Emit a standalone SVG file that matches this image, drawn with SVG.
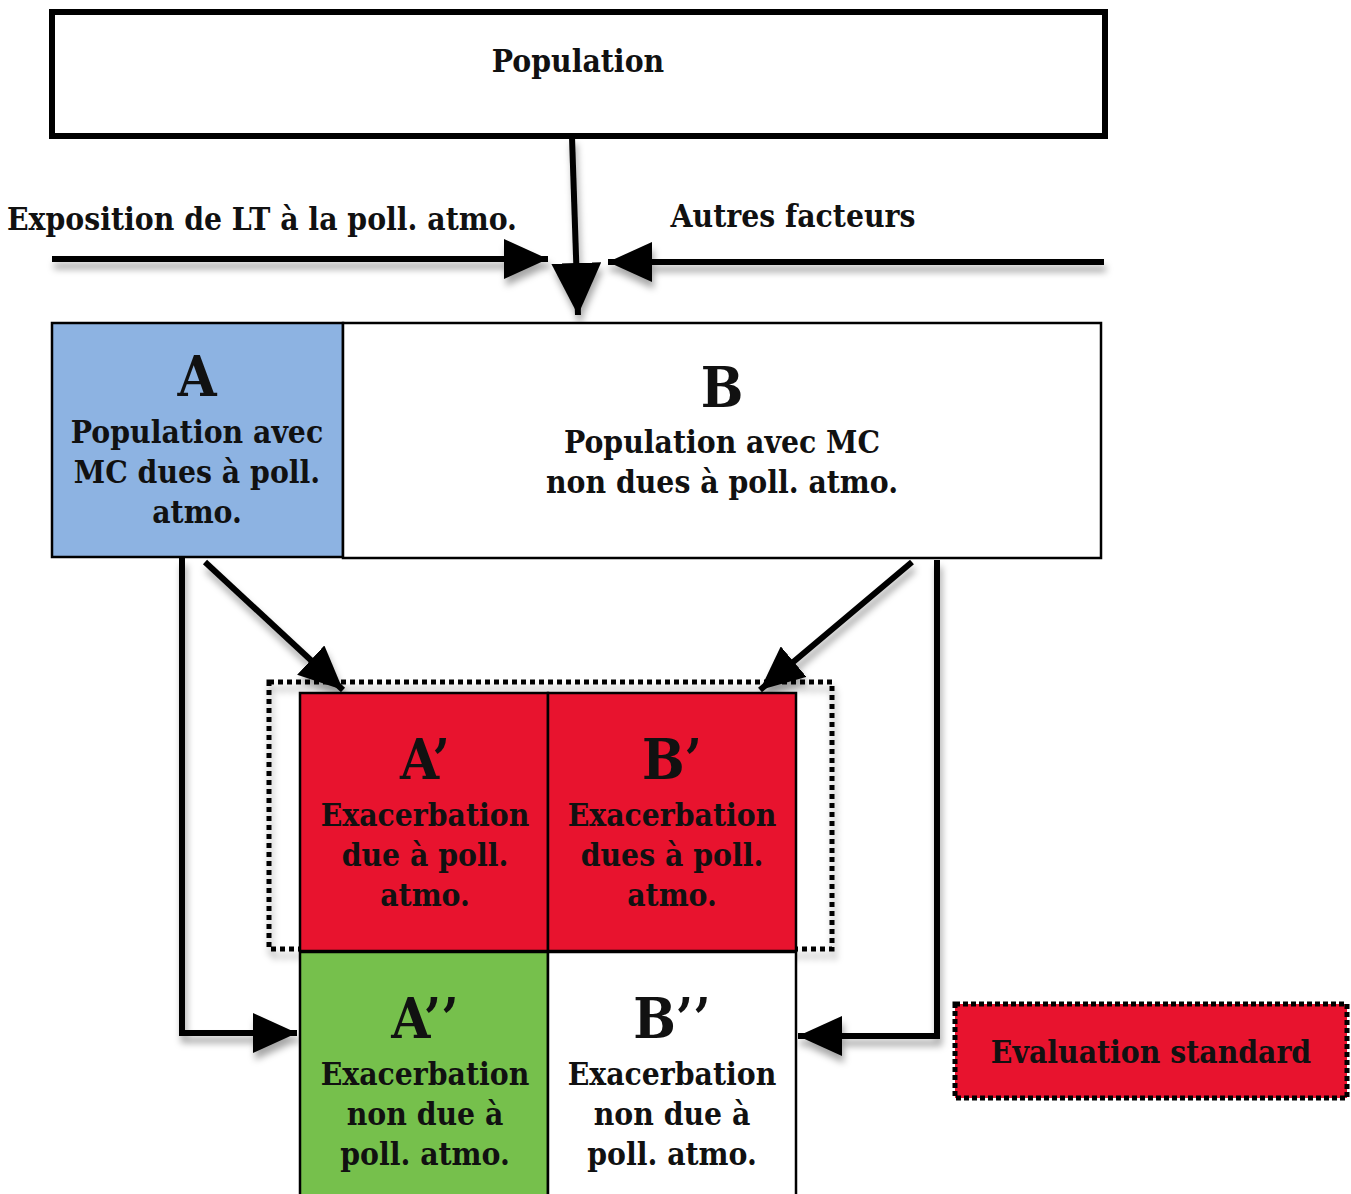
<svg xmlns="http://www.w3.org/2000/svg" width="1351" height="1194" viewBox="0 0 1351 1194">
<defs>
<filter id="sh" x="-20%" y="-20%" width="140%" height="160%">
<feDropShadow dx="2" dy="7" stdDeviation="3.5" flood-color="#000" flood-opacity="0.35"/>
</filter>
<marker id="ah" markerUnits="userSpaceOnUse" viewBox="0 0 44 40" refX="44" refY="20" markerWidth="44" markerHeight="40" orient="auto">
<path d="M0,0 L44,20 L0,40 Z" fill="#000"/>
</marker>
<marker id="ahBig" markerUnits="userSpaceOnUse" viewBox="0 0 52 50" refX="52" refY="25" markerWidth="52" markerHeight="50" orient="auto">
<path d="M0,0 L52,25 L0,50 Z" fill="#000"/>
</marker>
</defs>
<style>
text{font-family:"DejaVu Serif Condensed","DejaVu Serif","Liberation Serif",serif;font-weight:bold;fill:#111;text-anchor:middle}
.t{font-size:31.5px}
.big{font-size:56px}
.box{stroke:#000;stroke-width:2.5}
.conn{fill:none;stroke:#000;stroke-width:6}
</style>
<rect width="1351" height="1194" fill="#fff"/>

<g id="connectors" filter="url(#sh)">
<line class="conn" x1="572" y1="137" x2="578" y2="315" stroke-width="9" marker-end="url(#ahBig)"/>
<line class="conn" x1="52" y1="259" x2="548" y2="259" stroke-width="7" marker-end="url(#ah)"/>
<line class="conn" x1="1104" y1="262" x2="608" y2="262" stroke-width="7" marker-end="url(#ah)"/>
<line class="conn" x1="205" y1="562" x2="343" y2="690" stroke-width="5" marker-end="url(#ah)"/>
<line class="conn" x1="912" y1="562" x2="760" y2="690" stroke-width="5" marker-end="url(#ah)"/>
<polyline class="conn" points="182,558 182,1033 297,1033" stroke-width="5" marker-end="url(#ah)"/>
<polyline class="conn" points="937,560 937,1036 798,1036" stroke-width="5" marker-end="url(#ah)"/>
</g>

<g id="population">
<rect x="52" y="12" width="1053" height="124" fill="#fff" stroke="#000" stroke-width="6"/>
<text class="t" x="578" y="72">Population</text>
</g>

<g id="label-exposition">
<text class="t" x="262" y="230">Exposition de LT à la poll. atmo.</text>
</g>
<g id="label-autres">
<text class="t" x="793" y="227">Autres facteurs</text>
</g>

<g id="nodeA">
<rect class="box" x="52" y="323" width="291" height="234" fill="#8db3e2"/>
<text class="big" x="197" y="396">A</text>
<text class="t" x="197" y="443">Population avec</text>
<text class="t" x="197" y="483">MC dues à poll.</text>
<text class="t" x="197" y="523">atmo.</text>
</g>

<g id="nodeB">
<rect class="box" x="343" y="323" width="758" height="235" fill="#fff"/>
<text class="big" x="722" y="407">B</text>
<text class="t" x="722" y="453">Population avec MC</text>
<text class="t" x="722" y="493">non dues à poll. atmo.</text>
</g>

<g id="group-exacerbation">
<rect x="269" y="682" width="563" height="267" fill="none" stroke="#000" stroke-width="5" stroke-dasharray="5,4" filter="url(#sh)"/>
</g>

<g id="nodeA1">
<rect class="box" x="300" y="693" width="248" height="258" fill="#e8132e"/>
<text class="big" x="425" y="779">A’</text>
<text class="t" x="425" y="826">Exacerbation</text>
<text class="t" x="425" y="866">due à poll.</text>
<text class="t" x="425" y="906">atmo.</text>
</g>

<g id="nodeB1">
<rect class="box" x="548" y="693" width="248" height="258" fill="#e8132e"/>
<text class="big" x="672" y="779">B’</text>
<text class="t" x="672" y="826">Exacerbation</text>
<text class="t" x="672" y="866">dues à poll.</text>
<text class="t" x="672" y="906">atmo.</text>
</g>

<g id="nodeA2">
<rect class="box" x="300" y="952" width="248" height="250" fill="#76c04c"/>
<text class="big" x="425" y="1038">A’’</text>
<text class="t" x="425" y="1085">Exacerbation</text>
<text class="t" x="425" y="1125">non due à</text>
<text class="t" x="425" y="1165">poll. atmo.</text>
</g>

<g id="nodeB2">
<rect class="box" x="548" y="952" width="248" height="250" fill="#fff"/>
<text class="big" x="672" y="1038">B’’</text>
<text class="t" x="672" y="1085">Exacerbation</text>
<text class="t" x="672" y="1125">non due à</text>
<text class="t" x="672" y="1165">poll. atmo.</text>
</g>

<g id="evaluation">
<rect x="955" y="1004" width="392" height="94" fill="#e8132e" stroke="#000" stroke-width="5" stroke-dasharray="5,3"/>
<text class="t" x="1151" y="1063">Evaluation standard</text>
</g>
</svg>
